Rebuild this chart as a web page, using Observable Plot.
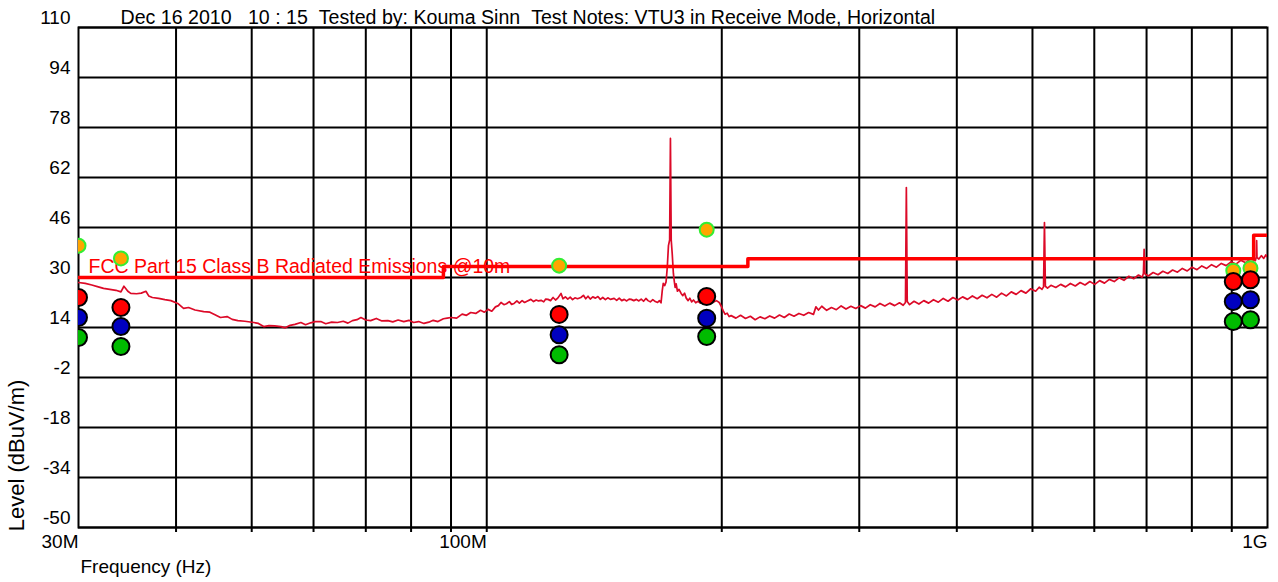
<!DOCTYPE html>
<html><head><meta charset="utf-8">
<script src="https://cdn.jsdelivr.net/npm/d3@7"></script>
<script src="https://cdn.jsdelivr.net/npm/@observablehq/plot@0.6"></script>
<style>
body{margin:0;background:#fff}
svg{font-family:"Liberation Sans",Arial,sans-serif}
</style>
</head><body><div id="chart"></div>
<script>
const titleText = "Dec 16 2010   10 : 15  Tested by: Kouma Sinn  Test Notes: VTU3 in Receive Mode, Horizontal";
const yLabel = "Level (dBuV/m)";
const xLabel = "Frequency (Hz)";
const limitName = "FCC Part 15 Class B Radiated Emissions @10m";
const yTicks = [110, 94, 78, 62, 46, 30, 14, -2, -18, -34, -50];
const xLabelTicks = [30, 100, 1000];
const xLabelNames = ["30M", "100M", "1G"];
const gridFreqs = [40, 50, 60, 70, 80, 90, 100, 200, 300, 400, 500, 600, 700, 800, 900];

// FCC limit (MHz, dBuV/m)
const limitFreq = [30, 88, 88, 216, 216, 960, 960, 1000];
const limitLevel = [30, 30, 33.5, 33.5, 36, 36, 43.5, 43.5];

// measured markers
const markerFreq = [30, 34.0, 123.8, 191.3, 904, 951];
const qpLevel    = [40.2, 36.1, 33.8, 45.3, 32.2, 33.0];
const redLevel   = [23.6, 20.4, 18.2, 23.9, 28.7, 29.3];
const blueLevel  = [17.2, 14.3, 11.7, 17.0, 22.3, 22.9];
const greenLevel = [10.8, 7.9, 5.3, 11.1, 15.9, 16.5];

// spectrum trace (MHz, dBuV/m)
const trace = [
[30,28.4],[30.6,28.1],[31.2,27.6],[31.8,27.0],[32.3,26.5],[32.9,26.2],[33.5,25.9],[34.0,25.4],[34.3,27.2],[34.7,25.6],
[35.0,24.9],[35.6,24.8],[36.1,25.0],[36.6,25.6],[36.9,24.1],[37.3,23.6],[38.0,23.3],[38.7,22.9],[39.4,22.6],[40.2,21.7],
[40.9,20.1],[41.5,20.4],[42.3,19.6],[43.4,19.1],[44.2,18.9],[45.0,17.9],[45.6,17.2],[46.5,17.5],[47.2,16.6],[48.0,16.2],
[49.0,16.0],[50.3,15.6],[51.0,15.3],[51.8,14.3],[52.6,14.6],[53.5,14.5],[54.5,14.3],[55.2,13.9],[56.0,14.7],[56.8,15.0],
[57.8,15.6],[58.6,14.9],[59.5,15.5],[60.3,15.9],[61.3,15.9],[62.2,15.2],[63.3,15.7],[64.4,15.6],[65.5,16.0],[66.4,15.4],
[67.3,16.2],[68.2,16.5],[69.0,17.2],[70.0,16.4],[71.0,16.2],[72.2,16.9],[73.4,16.1],[74.7,16.2],[75.8,15.8],[77.0,16.4],
[78.3,15.9],[79.5,16.3],[80.6,15.6],[81.8,15.9],[83.1,15.3],[84.3,15.7],[85.4,16.3],[86.6,15.9],[88.0,16.8],[89.0,17.0],
[90.0,17.2],[91.5,17.0],[93.0,18.3],[94.2,17.9],[95.4,18.8],[96.8,18.5],[98.2,19.5],[99.3,18.9],[100.4,19.8],[101.5,19.2],
[102.6,20.6],[103.5,21.0],[104.3,22.0],[105.2,21.3],[106.0,21.6],[106.9,22.3],[107.6,21.4],[108.4,21.7],[109.3,22.5],[110.1,21.8],
[111.0,22.6],[111.8,22.0],[112.6,22.4],[113.9,23.0],[114.8,22.3],[115.7,22.8],[116.5,22.5],[117.4,22.7],[118.3,22.2],[119.0,23.1],
[119.8,23.0],[120.7,22.6],[121.6,23.6],[122.5,22.8],[123.3,23.4],[124.5,24.9],[125.2,23.2],[126.1,23.8],[127.0,23.1],[127.9,23.7],
[128.8,22.9],[129.7,23.5],[130.7,23.2],[132.0,23.6],[133.0,24.3],[133.9,23.2],[134.8,24.0],[135.7,23.1],[136.7,23.8],[137.8,23.4],
[138.8,23.9],[139.8,23.0],[140.8,23.6],[141.9,22.9],[142.9,23.5],[144.0,23.0],[145.6,23.3],[146.7,22.7],[147.8,23.4],[148.9,22.6],
[150.0,23.0],[151.1,22.5],[152.2,23.1],[153.1,23.0],[154.3,22.6],[155.5,23.0],[156.6,22.5],[157.7,23.1],[158.8,22.4],[159.9,23.3],
[160.9,22.6],[162.0,22.2],[163.2,22.9],[164.4,22.3],[165.5,22.0],[166.4,22.6],[167.2,21.9],[167.8,25.8],[168.3,28.1],[169.0,27.4],
[169.7,28.6],[170.3,33.2],[170.9,40.2],[171.5,42.0],[171.9,74.5],[172.3,42.0],[172.8,37.7],[173.4,31.3],[173.9,28.6],[174.3,26.8],
[174.8,28.0],[175.5,25.6],[176.3,26.2],[177.4,24.9],[178.3,24.2],[179.2,25.0],[180.1,23.4],[181.1,22.6],[182.0,23.4],[183.0,22.2],
[184.0,22.8],[185.2,21.9],[186.5,22.4],[187.7,21.8],[189.0,22.4],[190.3,21.8],[191.6,22.5],[193.0,22.0],[194.3,23.0],[195.6,22.2],
[196.9,22.6],[198.5,22.0],[199.7,20.8],[200.8,19.4],[202.0,18.2],[203.2,18.6],[204.4,17.5],[205.6,17.8],[208.5,17.0],[211.4,17.9],
[214.5,16.9],[217.6,17.6],[220.7,16.5],[223.9,17.4],[227.1,16.8],[230.4,17.7],[233.7,17.0],[237.1,18.0],[240.5,17.2],[244.0,18.3],
[247.5,17.6],[251.1,18.5],[254.7,17.9],[258.4,18.8],[262.1,18.2],[264.0,20.6],[266.0,19.6],[268.6,20.8],[272.5,19.5],[276.4,20.4],
[280.4,19.7],[284.4,20.9],[288.5,19.9],[292.7,20.8],[296.9,20.1],[301.2,21.0],[305.5,20.2],[309.9,21.3],[314.4,20.6],[318.9,21.7],
[323.5,20.9],[328.2,21.8],[333.0,21.0],[337.8,21.9],[341.5,21.1],[343.8,22.0],[344.7,58.8],[345.6,22.3],[348.0,21.3],[352.6,22.4],
[357.7,21.5],[362.9,22.6],[368.1,21.8],[373.4,22.9],[378.8,22.1],[384.3,23.3],[389.8,22.4],[395.4,23.6],[401.1,22.8],[406.9,23.8],
[412.8,23.0],[418.8,24.1],[424.8,23.2],[431.0,24.3],[437.2,23.5],[443.5,24.6],[449.9,23.7],[456.4,25.0],[463.0,24.1],[469.7,25.4],
[476.5,24.6],[483.4,25.8],[490.4,25.0],[497.5,26.4],[504.7,25.6],[510.0,26.9],[514.2,26.2],[516.6,27.0],[518.0,47.6],[519.4,27.2],
[522.7,26.6],[528.0,27.5],[535.6,26.8],[543.4,27.8],[551.2,27.0],[559.2,28.1],[567.3,27.3],[575.5,28.4],[583.8,27.6],[592.2,28.7],
[600.8,27.8],[609.5,29.0],[618.3,28.2],[627.2,29.4],[636.3,28.7],[645.5,29.9],[654.8,29.1],[664.3,30.4],[673.9,29.6],[683.6,30.8],
[691.0,30.1],[693.5,31.3],[695.0,39.0],[696.5,31.2],[703.5,30.5],[713.7,31.6],[724.0,30.9],[734.5,32.0],[745.1,31.3],[755.9,32.4],
[766.8,31.7],[777.9,32.9],[789.2,32.1],[800.6,33.3],[812.2,32.5],[823.9,33.7],[835.8,32.9],[847.9,34.1],[860.2,33.3],[872.6,34.5],
[885.2,33.8],[898.0,35.0],[911.0,34.3],[924.2,35.5],[937.6,34.7],[951.1,36.0],[964.9,35.4],[967.5,36.6],[968.5,41.8],[969.5,36.4],
[975.0,35.9],[982.0,37.0],[989.0,36.1],[995.0,37.2],[1000.0,36.5]
];

const limit = limitFreq.map((f, i) => ({f, v: limitLevel[i]}));
const markers = markerFreq.map((f, i) => ({f, qp: qpLevel[i], red: redLevel[i], blue: blueLevel[i], green: greenLevel[i]}));
const nb = s => s.replace(/ /g, "\u00a0");

const chart = Plot.plot({
  width: 1278, height: 582,
  marginLeft: 78, marginRight: 11, marginTop: 27, marginBottom: 55,
  x: {type: "log", domain: [30, 1000], axis: null},
  y: {domain: [-50, 110], axis: null},
  style: {fontFamily: '"Liberation Sans", Arial, sans-serif', fontSize: "19px", background: "#fff", overflow: "visible"},
  marks: [
    Plot.ruleX(gridFreqs, {stroke: "#000", strokeWidth: 2}),
    Plot.ruleY(yTicks, {stroke: "#000", strokeWidth: 2}),
    Plot.frame({stroke: "#000", strokeWidth: 2}),
    Plot.axisX(gridFreqs, {tickSize: 5, tickFormat: () => "", label: null, stroke: "#000", strokeWidth: 2, strokeOpacity: 1}),
    Plot.axisX(xLabelTicks, {tickSize: 0, tickPadding: 7, textAnchor: "end", fontSize: 19, fill: "#000", label: null,
      tickFormat: d => xLabelNames[xLabelTicks.indexOf(d)]}),
    Plot.axisY(yTicks, {tickSize: 0, tickPadding: 8, dy: -10, fontSize: 19, fill: "#000", label: null, tickFormat: d => String(d)}),
    Plot.line(trace, {x: d => d[0], y: d => d[1], stroke: "#dc0a28", strokeWidth: 1.7, clip: true}),
    Plot.line(limit, {x: "f", y: "v", stroke: "#ff0000", strokeWidth: 3.5, clip: true}),
    Plot.text([limitName], {x: () => 30, y: () => 33.5, dx: 10, textAnchor: "start", lineAnchor: "middle", fill: "#ff0000", fontSize: 19.5}),
    Plot.dot(markers, {x: "f", y: "qp", r: 7, fill: "#ffa500", stroke: "#33ee33", strokeWidth: 2, clip: true}),
    Plot.dot(markers, {x: "f", y: "red", r: 8.5, fill: "#ff0000", stroke: "#000", strokeWidth: 2, clip: true}),
    Plot.dot(markers, {x: "f", y: "blue", r: 8.5, fill: "#0000c0", stroke: "#000", strokeWidth: 2, clip: true}),
    Plot.dot(markers, {x: "f", y: "green", r: 8.5, fill: "#00bb00", stroke: "#000", strokeWidth: 2, clip: true}),
    Plot.text([titleText], {frameAnchor: "top-left", dx: 42, dy: -10, textAnchor: "start", lineAnchor: "middle", fontSize: 19.6, text: d => nb(d)}),
    Plot.text([xLabel], {frameAnchor: "bottom-left", dx: 2, dy: 39, textAnchor: "start", lineAnchor: "middle", fontSize: 19}),
    Plot.text([yLabel], {frameAnchor: "bottom-left", dx: -62, dy: -72, rotate: -90, textAnchor: "middle", lineAnchor: "middle", fontSize: 22})
  ]
});
document.getElementById("chart").appendChild(chart);
</script>
</body></html>
